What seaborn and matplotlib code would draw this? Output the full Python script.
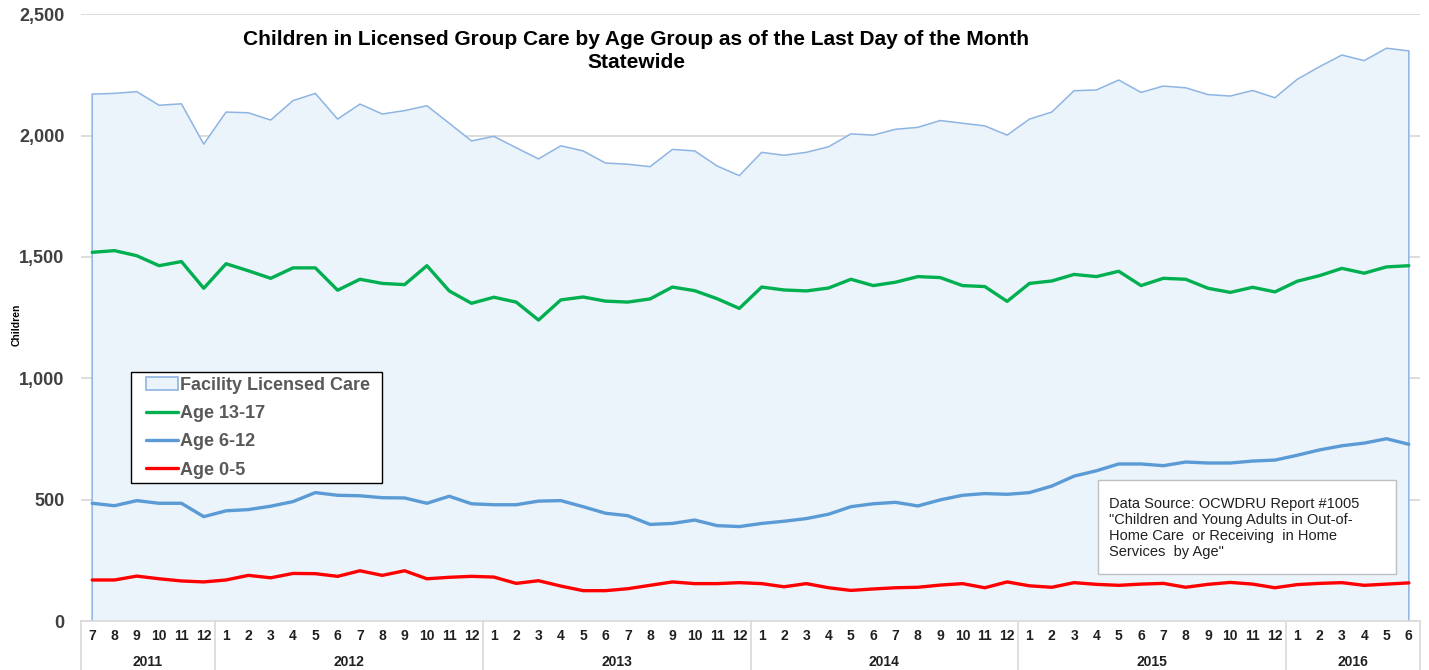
import matplotlib
matplotlib.use("Agg")
import matplotlib.pyplot as plt
from matplotlib.patches import Patch, Rectangle
from matplotlib.lines import Line2D
import numpy as np
import pandas as pd
import seaborn as sns

# Monthly counts, July 2011 through June 2016
months = [7, 8, 9, 10, 11, 12] + list(range(1, 13)) * 4 + [1, 2, 3, 4, 5, 6]
years = ["2011"] * 6 + ["2012"] * 12 + ["2013"] * 12 + ["2014"] * 12 + ["2015"] * 12 + ["2016"] * 6

facility_total = [
    2171, 2174, 2181, 2125, 2131, 1965,
    2097, 2094, 2064, 2144, 2174, 2068, 2130, 2089, 2103, 2123, 2051, 1978,
    1997, 1950, 1904, 1958, 1937, 1887, 1882, 1872, 1943, 1937, 1875, 1835,
    1931, 1919, 1931, 1954, 2007, 2002, 2026, 2034, 2062, 2051, 2040, 2002,
    2068, 2097, 2185, 2188, 2229, 2178, 2204, 2197, 2169, 2163, 2186, 2156,
    2232, 2284, 2332, 2309, 2360, 2349,
]
age_13_17 = [
    1519, 1526, 1505, 1464, 1481, 1371,
    1472, 1443, 1412, 1455, 1455, 1363, 1408, 1391, 1386, 1464, 1360, 1309,
    1334, 1314, 1240, 1323, 1335, 1318, 1314, 1327, 1376, 1361, 1328, 1288,
    1376, 1364, 1360, 1372, 1408, 1382, 1396, 1419, 1415, 1382, 1378, 1317,
    1391, 1401, 1428, 1419, 1441, 1382, 1412, 1408, 1371, 1354, 1375, 1356,
    1400, 1423, 1453, 1433, 1459, 1464,
]
age_6_12 = [
    485, 475, 496, 485, 485, 430,
    454, 459, 473, 492, 529, 518, 516, 508, 507, 485, 514, 483,
    479, 479, 494, 496, 471, 444, 434, 398, 402, 416, 393, 389,
    402, 411, 422, 440, 471, 483, 489, 474, 499, 518, 525, 522,
    529, 556, 597, 619, 647, 647, 640, 655, 651, 651, 659, 663,
    683, 705, 722, 733, 751, 728,
]
age_0_5 = [
    169, 169, 185, 174, 165, 161,
    169, 188, 178, 196, 195, 184, 207, 188, 207, 174, 180, 184,
    181, 155, 166, 144, 125, 125, 133, 147, 161, 154, 154, 158,
    154, 141, 154, 137, 126, 132, 137, 139, 148, 154, 137, 161,
    145, 139, 158, 151, 147, 152, 155, 139, 151, 159, 152, 137,
    150, 155, 158, 147, 152, 157,
]

series_names = ["Age 13-17", "Age 6-12", "Age 0-5"]
series_colors = ["#00B050", "#5B9BD5", "#FF0000"]

idx = np.arange(len(months))
df = pd.DataFrame({
    "idx": np.tile(idx, 3),
    "value": age_13_17 + age_6_12 + age_0_5,
    "group": np.repeat(series_names, len(months)),
})

sns.set_theme(style="white")
plt.rcParams["font.family"] = ["Liberation Sans", "DejaVu Sans"]

W, H = 1429, 670
fig = plt.figure(figsize=(W / 100, H / 100), dpi=100)
ax = fig.add_axes([81 / W, 49 / H, 1339 / W, 606.75 / H])


def fig_box(x0, y0, x1, y1):
    """Rectangle in figure fraction from pixel corners measured from the top-left."""
    return (x0 / W, 1 - y1 / H), (x1 - x0) / W, (y1 - y0) / H


area_fill = "#EBF3FB"
area_edge = "#8DB4E2"
ax.fill_between(idx, 0, facility_total, color=area_fill, zorder=1, linewidth=0)
ax.plot(np.r_[idx[0], idx, idx[-1]], np.r_[0, facility_total, 0],
        color=area_edge, linewidth=1.1, zorder=2)

sns.lineplot(data=df, x="idx", y="value", hue="group", hue_order=series_names,
             palette=series_colors, linewidth=2.4, legend=False, ax=ax, zorder=3)

ax.set_xlim(-0.5, len(months) - 0.5)
ax.set_ylim(0, 2500)
ax.set_yticks(range(0, 2501, 500))
ax.set_yticklabels([f"{v:,}" for v in range(0, 2501, 500)],
                   fontsize=13, color="#404040", fontweight="bold")
ax.yaxis.grid(True, color="#DDDDDD", linewidth=1.4, zorder=0)
ax.set_axisbelow(True)
for side in ["left", "right", "top"]:
    ax.spines[side].set_visible(False)
ax.spines["bottom"].set_color("#D9D9D9")
ax.spines["bottom"].set_linewidth(1.2)
ax.tick_params(axis="y", length=0, pad=12)

narrow = ["Liberation Sans Narrow", "Liberation Sans", "DejaVu Sans"]
ax.set_xticks(idx)
ax.set_xticklabels([str(m) for m in months], fontsize=10, fontweight="bold",
                   color="#202020", family=narrow)
ax.tick_params(axis="x", length=0, pad=6)
ax.set_xlabel("")
ax.set_ylabel("Children", fontsize=7.5, fontweight="bold", color="#000000")
ax.yaxis.set_label_coords((22 - 81) / 1339, (621 - 325) / 606.75)

# two-level category axis: year bands with separators
trans = ax.get_xaxis_transform()
band = 49 / 606.75
year_order = list(dict.fromkeys(years))
bounds = [-0.5]
for y in year_order:
    pos = [i for i, yy in enumerate(years) if yy == y]
    ax.text((pos[0] + pos[-1]) / 2, -0.068, y, transform=trans, ha="center", va="center",
            fontsize=10, fontweight="bold", color="#202020", family=narrow)
    bounds.append(pos[-1] + 0.5)
for b in bounds:
    ax.plot([b, b], [0, -band], transform=trans, color="#D9D9D9", linewidth=1.2, clip_on=False)

fig.text(636 / W, 1 - 51 / H,
         "Children in Licensed Group Care by Age Group as of the Last Day of the Month\nStatewide",
         ha="center", va="center", fontsize=15, fontweight="bold", color="#000000", linespacing=1.22)

# legend with its own frame
(lx, ly), lw, lh = fig_box(131, 372, 382, 483)
fig.add_artist(Rectangle((lx, ly), lw, lh, transform=fig.transFigure, facecolor="white",
                         edgecolor="#000000", linewidth=1.0, zorder=4))
handles = [Patch(facecolor=area_fill, edgecolor=area_edge, linewidth=1.2, label="Facility Licensed Care")]
handles += [Line2D([0], [0], color=c, linewidth=2.4, label=n) for n, c in zip(series_names, series_colors)]
leg = fig.legend(handles=handles, loc="upper left", bbox_to_anchor=(146 / W, 1 - 377 / H),
                 frameon=False, prop={"weight": "bold", "size": 13}, labelcolor="#595959",
                 handlelength=1.75, handletextpad=0.12, labelspacing=0.62,
                 borderpad=0, borderaxespad=0)
leg.set_zorder(5)

# data source note
(bx, by), bw, bh = fig_box(1098, 480, 1396, 574)
fig.add_artist(Rectangle((bx, by), bw, bh, transform=fig.transFigure, facecolor="white",
                         edgecolor="#BFBFBF", linewidth=1.0, zorder=4))
fig.text(1109 / W, 1 - 528 / H,
         "Data Source: OCWDRU Report #1005\n\"Children and Young Adults in Out-of-\nHome Care  or Receiving  in Home\nServices  by Age\"",
         ha="left", va="center", fontsize=10.5, color="#202020", linespacing=1.2, zorder=5)

fig.savefig("out.png", dpi=100)
